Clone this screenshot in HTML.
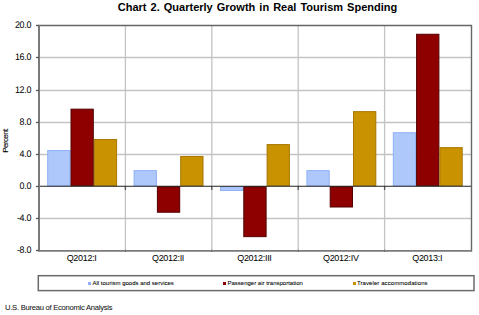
<!DOCTYPE html>
<html><head><meta charset="utf-8"><style>
html,body{margin:0;padding:0;background:#fff;}
body{width:479px;height:315px;position:relative;overflow:hidden;font-family:"Liberation Sans",sans-serif;color:#000;}
.t{position:absolute;left:18px;top:0px;transform:translateY(0.4px);width:479px;text-align:center;font-weight:bold;font-size:11px;line-height:14px;letter-spacing:0px;word-spacing:1px;}
.yl{position:absolute;left:0;width:31.2px;text-align:right;font-size:9.6px;line-height:10px;letter-spacing:-0.3px;text-rendering:geometricPrecision;transform:scaleX(0.93);transform-origin:100% 50%;}
.cl{position:absolute;top:253px;width:80px;text-align:center;font-size:9px;line-height:10px;letter-spacing:-0.3px;}
.pc{position:absolute;left:-9.5px;top:137px;width:30px;height:8px;text-align:center;font-size:8px;line-height:8px;transform:rotate(-90deg);letter-spacing:-0.6px;-webkit-text-stroke:0.1px #000;}
.lg{position:absolute;left:38px;top:276px;width:434px;height:13px;border:1px solid #555;}
.li{position:absolute;top:279px;font-size:6px;line-height:8px;white-space:nowrap;-webkit-text-stroke:0.07px #000;}
.sq{position:absolute;top:282px;width:3px;height:3px;}
.ft{position:absolute;left:5px;top:302.5px;font-size:7.6px;letter-spacing:-0.25px;line-height:9px;color:#111;-webkit-text-stroke:0.05px #111;}
svg{position:absolute;left:0;top:0;}
</style></head><body>
<svg width="479" height="315" viewBox="0 0 479 315">
<line x1="40" y1="57.5" x2="471" y2="57.5" stroke="#c4c4c4" stroke-width="1.3"/><line x1="40" y1="90.5" x2="471" y2="90.5" stroke="#c4c4c4" stroke-width="1.3"/><line x1="40" y1="122.5" x2="471" y2="122.5" stroke="#c4c4c4" stroke-width="1.3"/><line x1="40" y1="154.5" x2="471" y2="154.5" stroke="#c4c4c4" stroke-width="1.3"/><line x1="40" y1="218.5" x2="471" y2="218.5" stroke="#c4c4c4" stroke-width="1.3"/>
<line x1="125.40" y1="25" x2="125.40" y2="249" stroke="#c4c4c4" stroke-width="1.3"/><line x1="125.40" y1="186" x2="125.40" y2="190" stroke="#555" stroke-width="1.3"/><line x1="125.40" y1="249.5" x2="125.40" y2="252" stroke="#444" stroke-width="1.2"/><line x1="211.80" y1="25" x2="211.80" y2="249" stroke="#c4c4c4" stroke-width="1.3"/><line x1="211.80" y1="186" x2="211.80" y2="190" stroke="#555" stroke-width="1.3"/><line x1="211.80" y1="249.5" x2="211.80" y2="252" stroke="#444" stroke-width="1.2"/><line x1="298.20" y1="25" x2="298.20" y2="249" stroke="#c4c4c4" stroke-width="1.3"/><line x1="298.20" y1="186" x2="298.20" y2="190" stroke="#555" stroke-width="1.3"/><line x1="298.20" y1="249.5" x2="298.20" y2="252" stroke="#444" stroke-width="1.2"/><line x1="384.60" y1="25" x2="384.60" y2="249" stroke="#c4c4c4" stroke-width="1.3"/><line x1="384.60" y1="186" x2="384.60" y2="190" stroke="#555" stroke-width="1.3"/><line x1="384.60" y1="249.5" x2="384.60" y2="252" stroke="#444" stroke-width="1.2"/>
<rect x="47.70" y="150.54" width="22.30" height="35.16" fill="#aec8fb" stroke="#8fb0f6" stroke-width="1"/><rect x="71.00" y="109.15" width="22.30" height="76.55" fill="#8e0000" stroke="#520000" stroke-width="1"/><rect x="94.30" y="139.53" width="22.30" height="46.17" fill="#c99200" stroke="#a87600" stroke-width="1"/><rect x="134.10" y="170.63" width="22.30" height="15.07" fill="#aec8fb" stroke="#8fb0f6" stroke-width="1"/><rect x="157.40" y="186.70" width="22.30" height="25.52" fill="#8e0000" stroke="#520000" stroke-width="1"/><rect x="180.70" y="156.48" width="22.30" height="29.22" fill="#c99200" stroke="#a87600" stroke-width="1"/><rect x="220.50" y="186.70" width="22.30" height="3.82" fill="#aec8fb" stroke="#8fb0f6" stroke-width="1"/><rect x="243.80" y="186.70" width="22.30" height="49.95" fill="#8e0000" stroke="#520000" stroke-width="1"/><rect x="267.10" y="144.59" width="22.30" height="41.11" fill="#c99200" stroke="#a87600" stroke-width="1"/><rect x="306.90" y="170.63" width="22.30" height="15.07" fill="#aec8fb" stroke="#8fb0f6" stroke-width="1"/><rect x="330.20" y="186.70" width="22.30" height="20.30" fill="#8e0000" stroke="#520000" stroke-width="1"/><rect x="353.50" y="111.64" width="22.30" height="74.06" fill="#c99200" stroke="#a87600" stroke-width="1"/><rect x="393.30" y="132.70" width="22.30" height="53.00" fill="#aec8fb" stroke="#8fb0f6" stroke-width="1"/><rect x="416.60" y="34.26" width="22.30" height="151.44" fill="#8e0000" stroke="#520000" stroke-width="1"/><rect x="439.90" y="147.65" width="22.30" height="38.05" fill="#c99200" stroke="#a87600" stroke-width="1"/>
<line x1="40" y1="186.2" x2="471" y2="186.2" stroke="#222" stroke-width="1.1"/>
<line x1="38" y1="25.5" x2="472" y2="25.5" stroke="#666" stroke-width="1.3"/>
<line x1="471.5" y1="25" x2="471.5" y2="251.5" stroke="#666" stroke-width="1.4"/>
<line x1="38" y1="250.8" x2="472" y2="250.8" stroke="#7a7a7a" stroke-width="1.8"/>
<line x1="39" y1="25" x2="39" y2="251" stroke="#7a7a7a" stroke-width="2"/>
<rect x="38.3" y="275.7" width="435.7" height="14.9" fill="none" stroke="#6a6a6a" stroke-width="1.5"/>
<line x1="36" y1="25.5" x2="39" y2="25.5" stroke="#555" stroke-width="1.3"/><line x1="36" y1="57.5" x2="39" y2="57.5" stroke="#555" stroke-width="1.3"/><line x1="36" y1="90.5" x2="39" y2="90.5" stroke="#555" stroke-width="1.3"/><line x1="36" y1="122.5" x2="39" y2="122.5" stroke="#555" stroke-width="1.3"/><line x1="36" y1="154.5" x2="39" y2="154.5" stroke="#555" stroke-width="1.3"/><line x1="36" y1="186.5" x2="39" y2="186.5" stroke="#555" stroke-width="1.3"/><line x1="36" y1="218.5" x2="39" y2="218.5" stroke="#555" stroke-width="1.3"/><line x1="36" y1="250.5" x2="39" y2="250.5" stroke="#555" stroke-width="1.3"/>
</svg>
<div class="t">Chart 2. Quarterly Growth in Real Tourism Spending</div>
<div class="yl" style="top:21px">20.0</div><div class="yl" style="top:53px">16.0</div><div class="yl" style="top:86px">12.0</div><div class="yl" style="top:118px">8.0</div><div class="yl" style="top:150px">4.0</div><div class="yl" style="top:182px">0.0</div><div class="yl" style="top:214px">-4.0</div><div class="yl" style="top:246px">-8.0</div>
<div class="pc">Percent</div>
<div class="cl" style="left:41.6px">Q2012:I</div><div class="cl" style="left:128.0px">Q2012:II</div><div class="cl" style="left:214.4px">Q2012:III</div><div class="cl" style="left:300.8px">Q2012:IV</div><div class="cl" style="left:387.2px">Q2013:I</div>

<div class="sq" style="left:88px;background:#8fb0f8"></div>
<div class="li" style="left:92.5px">All tourism goods and services</div>
<div class="sq" style="left:223px;background:#8e0000"></div>
<div class="li" style="left:227.5px">Passenger air transportation</div>
<div class="sq" style="left:353px;background:#c99200"></div>
<div class="li" style="left:357px;letter-spacing:0.08px">Traveler accommodations</div>
<div class="ft">U.S. Bureau of Economic Analysis</div>
</body></html>
